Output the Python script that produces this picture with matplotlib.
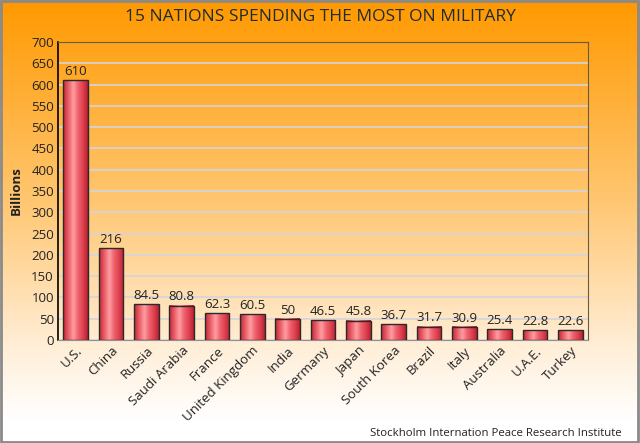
import numpy as np
import matplotlib
matplotlib.use('Agg')
from matplotlib import pyplot as plt
from matplotlib.colors import LinearSegmentedColormap

countries = ['U.S.', 'China', 'Russia', 'Saudi Arabia', 'France', 'United Kingdom',
             'India', 'Germany', 'Japan', 'South Korea', 'Brazil', 'Italy',
             'Australia', 'U.A.E.', 'Turkey']
spending = [610, 216, 84.5, 80.8, 62.3, 60.5, 50, 46.5, 45.8, 36.7, 31.7, 30.9, 25.4, 22.8, 22.6]
labels = ['610', '216', '84.5', '80.8', '62.3', '60.5', '50', '46.5', '45.8', '36.7',
          '31.7', '30.9', '25.4', '22.8', '22.6']
yticks = list(range(0, 701, 50))

plt.rcParams['font.family'] = ['Open Sans', 'DejaVu Sans']
text_color = '#222222'

fig = plt.figure(figsize=(6.4, 4.43), dpi=100)

# background gradient: orange at the top, white at the bottom
bg = fig.add_axes([0, 0, 1, 1], zorder=-10)
bg_cmap = LinearSegmentedColormap.from_list('bg', [
    (0.0, '#ff9900'), (0.45, '#ffc670'), (0.8, '#fff0dc'), (0.95, '#ffffff'), (1.0, '#ffffff')])
grad = np.linspace(0, 1, 256).reshape(-1, 1)
bg.imshow(grad, aspect='auto', cmap=bg_cmap, extent=[0, 1, 0, 1], origin='upper')
bg.set_axis_off()
bg.add_patch(plt.Rectangle((0.002, 0.003), 0.995, 0.994, fill=False,
                           edgecolor='#8a8a8a', linewidth=2, transform=bg.transAxes))

ax = fig.add_axes([58 / 640, 1 - 340 / 443, 530 / 640, 298 / 443])
ax.patch.set_alpha(0)

bar_cmap = LinearSegmentedColormap.from_list('bar', [
    (0.0, '#c02838'), (0.2, '#e85a64'), (0.42, '#ff9ea2'),
    (0.6, '#f06470'), (0.85, '#d83a48'), (1.0, '#b82030')])
stripe = np.linspace(0, 1, 64).reshape(1, -1)

x = np.arange(len(countries))
width = 0.7
bars = ax.bar(x, spending, width, facecolor='none', edgecolor='#2a2a2a', linewidth=1, zorder=3)
for b, label in zip(bars, labels):
    x0, y0 = b.get_x(), b.get_y()
    w, h = b.get_width(), b.get_height()
    ax.imshow(stripe, aspect='auto', cmap=bar_cmap, extent=[x0, x0 + w, y0, y0 + h],
              zorder=2, interpolation='bilinear')
    ax.text(x0 + w / 2, h + 5, label, ha='center', va='bottom', fontsize=9.5, color=text_color, zorder=4)

ax.set_xlim(-0.5, len(countries) - 0.5)
ax.set_ylim(0, 700)
ax.set_yticks(yticks)
ax.set_yticklabels([str(t) for t in yticks], fontsize=9.5, color=text_color)
ax.set_xticks(x)
ax.set_xticklabels(countries, rotation=45, ha='right', rotation_mode='anchor',
                   fontsize=9.5, color=text_color)
ax.tick_params(axis='both', length=0, pad=3)
ax.yaxis.grid(True, color='#d4d4dc', linewidth=1.2)
ax.set_axisbelow(True)

ax.spines['left'].set_color('#000000')
ax.spines['left'].set_linewidth(1.2)
for side in ['top', 'right']:
    ax.spines[side].set_color('#6a5a40')
ax.spines['bottom'].set_color('#909090')

ax.set_ylabel('Billions', fontsize=9.5, fontweight='bold', color=text_color, labelpad=6)

fig.text(0.5, 1 - 17 / 443, '15 NATIONS SPENDING THE MOST ON MILITARY', ha='center', va='center',
         fontsize=12.5, color='#1e2d2d')
fig.text(622 / 640, 1 - 434 / 443, 'Stockholm Internation Peace Research Institute', ha='right',
         va='center', fontsize=8.2, color=text_color)

fig.savefig('out.png', dpi=100)
